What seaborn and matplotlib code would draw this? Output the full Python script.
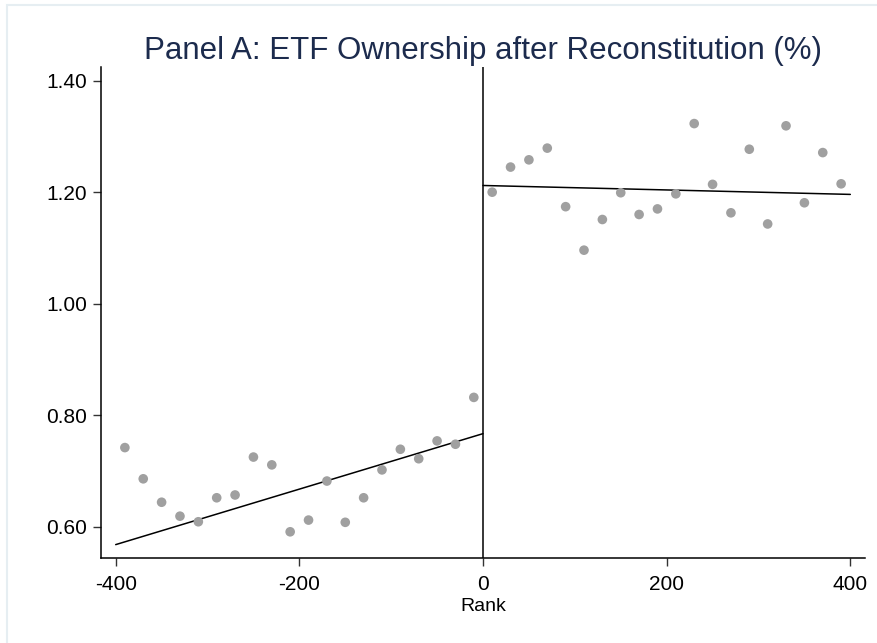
import matplotlib
matplotlib.use('Agg')
import numpy as np
import pandas as pd
import matplotlib.pyplot as plt
import seaborn as sns
from matplotlib.patches import Rectangle

# bin centres (rank) and binned ETF ownership (%)
rank_left = [-390, -370, -350, -330, -310, -290, -270, -250, -230, -210,
             -190, -170, -150, -130, -110, -90, -70, -50, -30, -10]
own_left = [0.742, 0.686, 0.644, 0.619, 0.609, 0.652, 0.657, 0.725, 0.711, 0.591,
            0.612, 0.682, 0.608, 0.652, 0.702, 0.739, 0.722, 0.754, 0.748, 0.832]
rank_right = [10, 30, 50, 70, 90, 110, 130, 150, 170, 190,
              210, 230, 250, 270, 290, 310, 330, 350, 370, 390]
own_right = [1.200, 1.245, 1.258, 1.279, 1.174, 1.096, 1.151, 1.199, 1.160, 1.170,
             1.197, 1.323, 1.214, 1.163, 1.277, 1.143, 1.319, 1.181, 1.271, 1.215]

# linear fits on each side of the cutoff
fit_x_left = [-400, 0]
fit_y_left = [0.568, 0.767]
fit_x_right = [0, 400]
fit_y_right = [1.212, 1.196]

yticks = [0.60, 0.80, 1.00, 1.20, 1.40]
xticks = [-400, -200, 0, 200, 400]

df_pts = pd.DataFrame({'rank': rank_left + rank_right, 'own': own_left + own_right})
df_fl = pd.DataFrame({'rank': fit_x_left, 'own': fit_y_left})
df_fr = pd.DataFrame({'rank': fit_x_right, 'own': fit_y_right})

sns.set_style("white")
plt.rcParams['font.family'] = ['Liberation Sans', 'DejaVu Sans']

fig = plt.figure(figsize=(8.78, 6.43), dpi=100)
ax = fig.add_axes([101/878, 1 - 558/643, (865-101)/878, (558-66.7)/643])

# light frame around the graph region
fig.patches.append(Rectangle((7/878, -0.1), 1.2, 1 - 5/643 + 0.1, transform=fig.transFigure,
                             fill=False, edgecolor='#e6eef2', linewidth=1.5))

sns.scatterplot(data=df_pts, x='rank', y='own', color='#a0a0a0', s=48,
                edgecolor='none', ax=ax, zorder=3)
sns.lineplot(data=df_fl, x='rank', y='own', color='black', linewidth=1.1, ax=ax)
sns.lineplot(data=df_fr, x='rank', y='own', color='black', linewidth=1.1, ax=ax)
ax.axvline(0, color='black', linewidth=1.1)

ax.set_xlim(-416, 416)
ax.set_ylim(0.544, 1.425)
ax.set_xticks(xticks)
ax.set_xticklabels([str(t) for t in xticks])
ax.set_yticks(yticks)
ax.set_yticklabels([f"{t:.2f}" for t in yticks])

for s in ['top', 'right']:
    ax.spines[s].set_visible(False)
for s in ['left', 'bottom']:
    ax.spines[s].set_color('black')
    ax.spines[s].set_linewidth(1.1)
ax.tick_params(axis='both', direction='out', length=6, width=1, color='#333333',
               labelsize=15, labelcolor='black', pad=4, bottom=True, left=True)
ax.tick_params(axis='x', pad=6)

ax.set_xlabel('Rank', fontsize=14, labelpad=3, color='black')
ax.set_ylabel('')
fig.text(483/878, 1 - 51/643, 'Panel A: ETF Ownership after Reconstitution (%)',
         ha='center', va='center', fontsize=22.5, color='#1c2b4d')

fig.savefig('out.png', dpi=100)
